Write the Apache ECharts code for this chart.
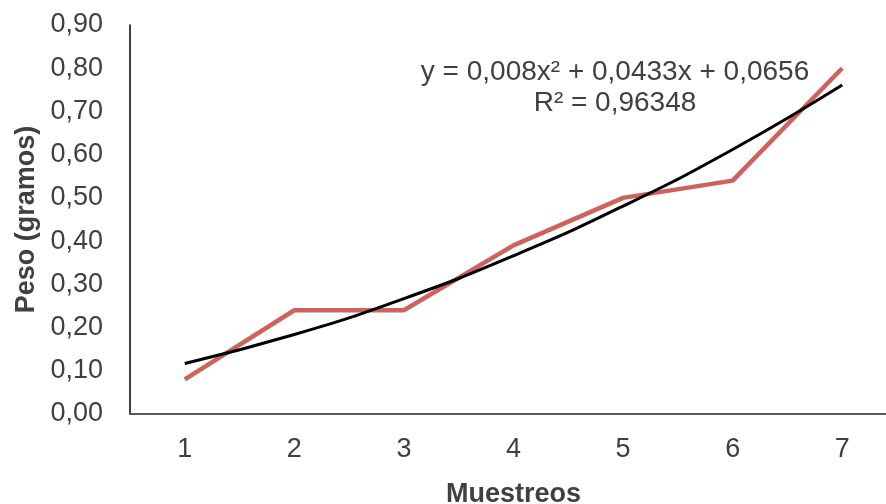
<!DOCTYPE html>
<html><head><meta charset="utf-8">
<script src="https://cdn.jsdelivr.net/npm/echarts@6/dist/echarts.min.js"></script>
<style>html,body{margin:0;padding:0;background:#fff}#c{width:886px;height:504px}</style>
</head><body><div id="c"></div>
<script>
const categories = ['1','2','3','4','5','6','7'];
const pesoValues = [0.08, 0.24, 0.24, 0.39, 0.50, 0.54, 0.80];
const trendValues = [0.117, 0.184, 0.267, 0.366, 0.481, 0.612, 0.761];
const yTicks = [0, 0.9, 0.1];
const equationText = 'y = 0,008x² + 0,0433x + 0,0656';
const r2Text = 'R² = 0,96348';

const chart = echarts.init(document.getElementById('c'), null, {renderer:'canvas'});
const font = 'Liberation Sans, Arial, sans-serif';
chart.setOption({
  animation:false,
  grid:{left:130, right:-11, top:25, bottom:90, containLabel:false, outerBoundsMode:'none'},
  xAxis:{
    type:'category', data:categories, boundaryGap:true,
    name:'Muestreos', nameLocation:'middle', nameGap:67,
    nameTextStyle:{fontFamily:font, fontSize:27, fontWeight:'bold', color:'#404040'},
    axisLine:{lineStyle:{color:'#595959', width:2}},
    axisTick:{show:false},
    axisLabel:{fontFamily:font, fontSize:27, color:'#404040', margin:22}
  },
  yAxis:{
    type:'value', min:yTicks[0], max:yTicks[1], interval:yTicks[2],
    name:'Peso (gramos)', nameLocation:'middle', nameGap:90, nameRotate:90,
    nameTextStyle:{fontFamily:font, fontSize:27, fontWeight:'bold', color:'#404040'},
    axisLine:{show:true, lineStyle:{color:'#000', width:1.5}},
    axisTick:{show:false},
    splitLine:{show:false},
    axisLabel:{fontFamily:font, fontSize:27, color:'#404040', margin:27,
      formatter:v=>v.toFixed(2).replace('.',',')}
  },
  series:[
    {type:'line', data:pesoValues, symbol:'none', lineStyle:{color:'#CD635B', width:4.5}, z:2},
    {type:'line', data:trendValues, symbol:'none', smooth:true, lineStyle:{color:'#000', width:3}, z:3}
  ],
  graphic:[
    {type:'text', style:{text:equationText, x:0, y:0, font:'28px '+font, fill:'#404040', textAlign:'center', textVerticalAlign:'middle'}, position:[615,72]},
    {type:'text', style:{text:r2Text, x:0, y:0, font:'28px '+font, fill:'#404040', textAlign:'center', textVerticalAlign:'middle'}, position:[615,103]}
  ]
});
</script></body></html>
